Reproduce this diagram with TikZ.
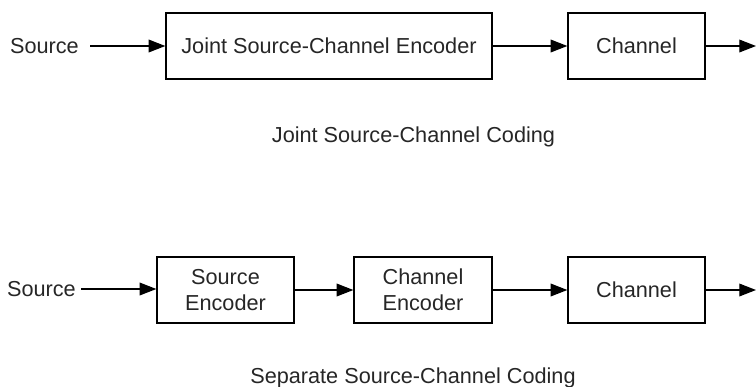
\documentclass[tikz,border=0pt]{standalone}
\usepackage{fontspec}
\setmainfont{Liberation Sans}
\usetikzlibrary{positioning, arrows.meta}

\begin{document}
\begin{tikzpicture}[x=0.03cm, y=-0.03cm,
    font=\fontsize{18.5}{22}\selectfont, text=black!85,
    block/.style={draw, line width=1.1pt, minimum height=1.98cm, align=center, inner sep=0pt},
    link/.style={line width=1.1pt, -{Triangle[length=0.5cm, width=0.38cm]}}]  % Begins a TikZ picture environment with pixel-like units
    \useasboundingbox (0,0) rectangle (756,386);  % Fixes the picture size to the reference frame

    % Joint coding nodes
    \node (jsrc) [anchor=east, inner ysep=0pt, inner xsep=0.33cm] at (90,46) {Source};  % Defines the source label of the joint chain
    \node (jenc) [block, minimum width=9.78cm] at (329,46) {Joint Source-Channel Encoder};  % Defines the joint encoder block
    \node (jchan) [block, minimum width=4.11cm] at (636.5,46) {Channel};  % Defines the channel block of the joint chain
    \coordinate (jout) at (756,46);  % Defines the free end of the output arrow
    \node (jcap) [anchor=base] at (413.5,142) {Joint Source-Channel Coding};  % Defines the caption of the joint chain

    % Separate coding nodes
    \node (ssrc) [anchor=east, inner ysep=0pt, inner xsep=0.15cm] at (81,289) {Source};  % Defines the source label of the separate chain
    \node (senc) [block, minimum width=4.11cm] at (225.5,290) {Source\\Encoder};  % Defines the source encoder block
    \node (cenc) [block, minimum width=4.14cm] at (423,290) {Channel\\Encoder};  % Defines the channel encoder block
    \node (schan) [block, minimum width=4.11cm] at (636.5,290) {Channel};  % Defines the channel block of the separate chain
    \coordinate (sout) at (756,290);  % Defines the free end of the output arrow
    \node (scap) [anchor=base] at (413,383) {Separate Source-Channel Coding};  % Defines the caption of the separate chain

    % Arrows
    \draw [link] (jsrc) -- (jenc);  % Draws an arrow from "jsrc" to "jenc"
    \draw [link] (jenc) -- (jchan);  % Draws an arrow from "jenc" to "jchan"
    \draw [link] (jchan) -- (jout);  % Draws an arrow leaving "jchan"
    \draw [link] (ssrc.east) -- (senc.west |- ssrc.east);  % Draws an arrow from "ssrc" to "senc"
    \draw [link] (senc) -- (cenc);  % Draws an arrow from "senc" to "cenc"
    \draw [link] (cenc) -- (schan);  % Draws an arrow from "cenc" to "schan"
    \draw [link] (schan) -- (sout);  % Draws an arrow leaving "schan"
\end{tikzpicture}
\end{document}
